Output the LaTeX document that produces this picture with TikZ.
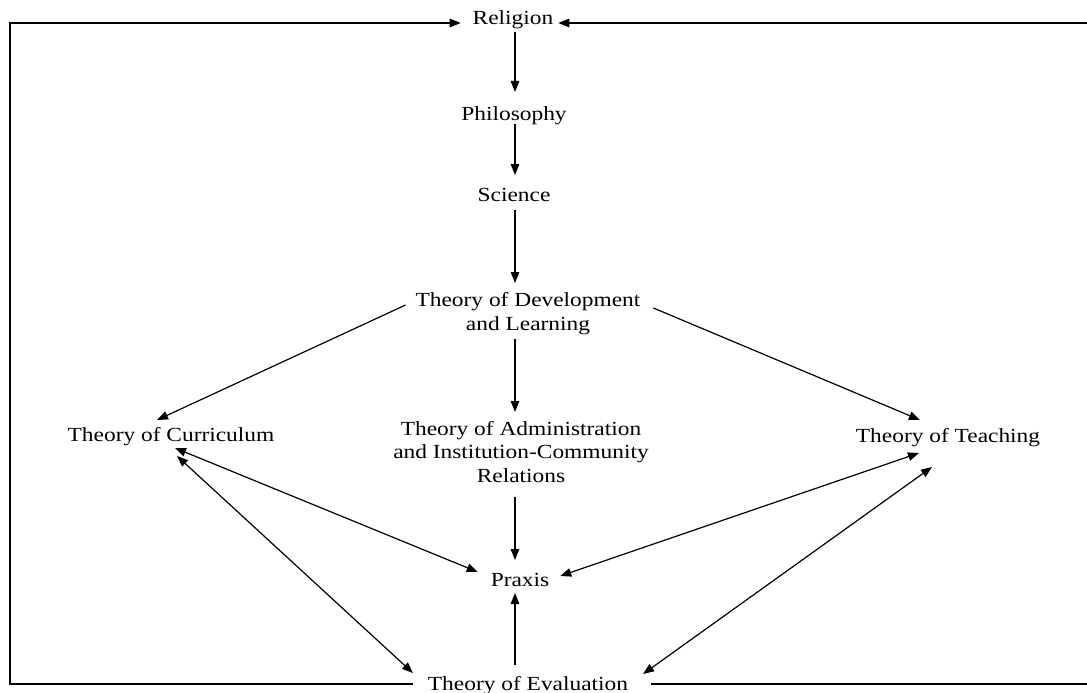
\documentclass[tikz,border=0pt]{standalone}
\usepackage{fontspec}
\setmainfont[FakeStretch=1.17]{Liberation Serif}
\usetikzlibrary{arrows.meta,calc}
\begin{document}
\begin{tikzpicture}[x=1pt,y=-1pt,
  lbl/.style={inner sep=0pt,outer sep=0pt,align=center,anchor=base,font=\fontsize{20pt}{23.5pt}\selectfont},
  arr/.style={-{Triangle[length=11pt,width=8.5pt]},line width=1.2pt},
  darr/.style={{Triangle[length=11pt,width=8.5pt]}-{Triangle[length=11pt,width=8.5pt]},line width=1.2pt}]
\fill[white] (0,0) rectangle (1087,693);
\useasboundingbox (0,0) rectangle (1087,693);
\node[lbl] (rel) at (513,25) {Religion};
\node[lbl] (phil) at (514,120) {Philosophy};
\node[lbl] (sci) at (514,201) {Science};
\node[lbl] (tdl) at (528,330) {Theory of Development\\and Learning};
\node[lbl] (cur) at (171,441) {Theory of Curriculum};
\node[lbl] (tai) at (521,482) {Theory of Administration\\and Institution-Community\\Relations};
\node[lbl] (tea) at (948,442) {Theory of Teaching};
\node[lbl] (prax) at (520,586) {Praxis};
\node[lbl] (eval) at (528,690) {Theory of Evaluation};
\coordinate (tl) at (10,23);
\coordinate (bl) at (10,684);
\coordinate (tr) at (1089,23);
\coordinate (br) at (1089,684);
% outer loop
\draw[arr] ($(eval.base west)+(-15,-6)$) -- (bl) -- (tl) -- ($(rel.base west)+(-12,-2)$);
\draw[arr] ($(eval.base east)+(23,-6)$) -- (br) -- (tr) -- ($(rel.base east)+(5,-2)$);
% vertical chain
\draw[arr] ($(rel.base)+(2,7)$) -- ($(phil.base)+(1,-28)$);
\draw[arr] ($(phil.base)+(1,4)$) -- ($(sci.base)+(1,-26)$);
\draw[arr] ($(sci.base)+(1,9)$) -- ($(tdl.base)+(-13,-47)$);
\draw[arr] ($(tdl.base)+(-13,9)$) -- ($(tai.base)+(-6,-70)$);
\draw[arr] ($(tdl.base west)+(-10,-25)$) -- ($(cur.base)+(-14,-21)$);
\draw[arr] ($(tdl.base east)+(13,-22)$) -- ($(tea.base)+(-28,-22)$);
\draw[arr] ($(tai.base)+(-6,15)$) -- ($(prax.base)+(-5,-26)$);
\draw[arr] ($(eval.base)+(-13,-25)$) -- ($(prax.base)+(-5,7)$);
% double arrows
\draw[darr] ($(cur.base)+(4,7)$) -- ($(prax.base west)+(-13,-14)$);
\draw[darr] ($(cur.base)+(6,15)$) -- ($(eval.base west)+(-15,-17)$);
\draw[darr] ($(tea.base)+(-29,11)$) -- ($(prax.base east)+(11,-10)$);
\draw[darr] ($(tea.base)+(-16,25)$) -- ($(eval.base east)+(15,-16)$);
\end{tikzpicture}
\end{document}
